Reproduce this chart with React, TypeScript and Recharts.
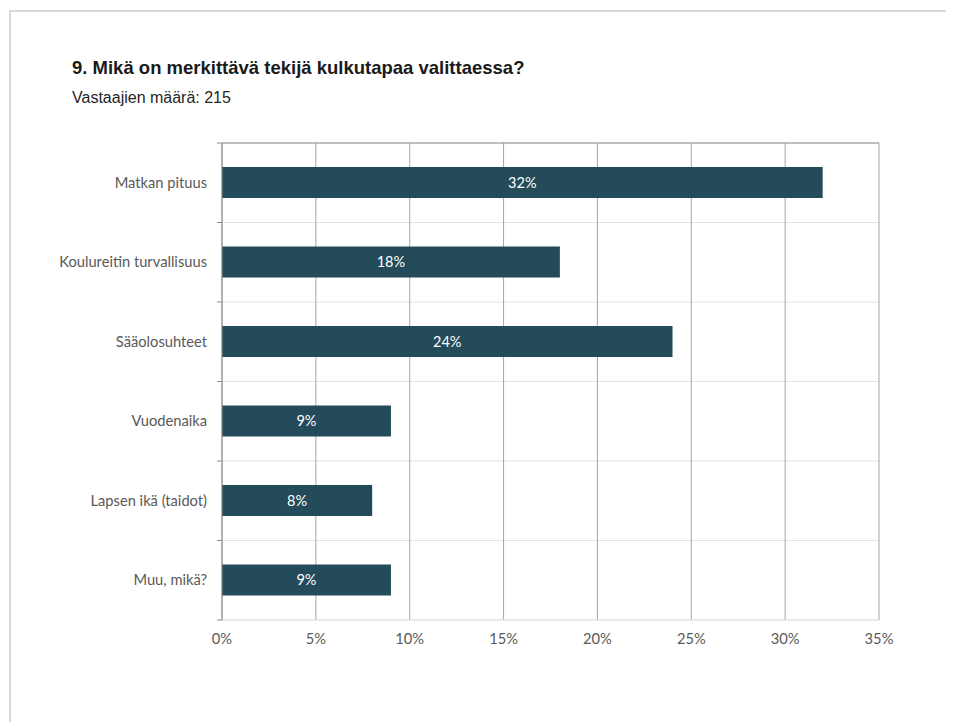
import React from "react";
import { BarChart, Bar, XAxis, YAxis, CartesianGrid, LabelList } from "recharts";

const categories = [
  "Matkan pituus",
  "Koulureitin turvallisuus",
  "Sääolosuhteet",
  "Vuodenaika",
  "Lapsen ikä (taidot)",
  "Muu, mikä?",
];
const values = [32, 18, 24, 9, 8, 9];
const xTicks = [0, 5, 10, 15, 20, 25, 30, 35];
const title = "9. Mikä on merkittävä tekijä kulkutapaa valittaessa?";
const subtitle = "Vastaajien määrä: 215";

const data = categories.map((c, i) => ({ name: c, value: values[i] }));

const FONT = "Lato, 'Open Sans', sans-serif";
const LABEL_GAP = 15;

const CategoryTick = (props: any) => {
  const { x, y, payload, index } = props;
  const half = payload && typeof payload.offset === "number" ? payload.offset : 0;
  const axisX = x + LABEL_GAP;
  const isLast = index === categories.length - 1;
  return (
    <g>
      {half > 0 && <line x1={axisX - 5} x2={axisX} y1={y - half} y2={y - half} stroke="#8c8c8c" />}
      {half > 0 && isLast && <line x1={axisX - 5} x2={axisX} y1={y + half} y2={y + half} stroke="#8c8c8c" />}
      <text
        x={x}
        y={y}
        dy="0.35em"
        textAnchor="end"
        fill="#595959"
        fontSize={14.7}
        fontFamily={FONT}
      >
        {payload.value}
      </text>
    </g>
  );
};

const bandBoundaries = (props: any) => {
  const off = props && props.offset;
  if (!off) return [];
  const n = categories.length;
  const step = off.height / n;
  const pts: number[] = [];
  for (let i = 0; i <= n; i++) pts.push(off.top + i * step);
  return pts;
};

export default function App() {
  return (
    <div style={{ position: "relative", width: 946, height: 714, background: "#fff" }}>
      <div style={{ position: "absolute", left: 1, top: 2, width: 945, height: 2, background: "#d9d9d9" }} />
      <div style={{ position: "absolute", left: 1, top: 2, width: 2, height: 712, background: "#d9d9d9" }} />
      <div
        style={{
          position: "absolute",
          left: 64,
          top: 49,
          fontFamily: "Arial, 'Liberation Sans', sans-serif",
          fontWeight: "bold",
          fontSize: 18.5,
          color: "#1a1a1a",
          whiteSpace: "nowrap",
        }}
      >
        {title}
      </div>
      <div
        style={{
          position: "absolute",
          left: 64,
          top: 81,
          fontFamily: "Arial, 'Liberation Sans', sans-serif",
          fontSize: 16,
          color: "#262626",
          whiteSpace: "nowrap",
        }}
      >
        {subtitle}
      </div>
      <div style={{ position: "absolute", left: 0, top: 0 }}>
        <BarChart
          width={946}
          height={714}
          data={data}
          layout="vertical"
          margin={{ top: 130, right: 75, bottom: 72, left: 0 }}
          barCategoryGap={24}
        >
          <CartesianGrid
            xAxisId="bottom"
            horizontal={true}
            vertical={false}
            stroke="#e3e3e3"
            horizontalCoordinatesGenerator={bandBoundaries}
          />
          <CartesianGrid
            xAxisId="bottom"
            horizontal={false}
            vertical={true}
            stroke="#a6a6a6"
          />
          <XAxis
            type="number"
            xAxisId="bottom"
            orientation="bottom"
            domain={[0, 35]}
            ticks={xTicks}
            tickFormatter={(v) => `${v}%`}
            axisLine={{ stroke: "#e3e3e3" }}
            tickLine={false}
            tickSize={0}
            tickMargin={14}
            height={30}
            tick={{ fill: "#595959", fontSize: 14.7, fontFamily: FONT }}
          />
          <XAxis
            type="number"
            xAxisId="top"
            orientation="top"
            domain={[0, 35]}
            ticks={xTicks}
            axisLine={{ stroke: "#8c8c8c" }}
            tickLine={{ stroke: "#8c8c8c" }}
            tickSize={5}
            tick={false}
            height={5}
          />
          <YAxis
            type="category"
            dataKey="name"
            width={214}
            axisLine={{ stroke: "#8c8c8c" }}
            tickLine={false}
            tickSize={0}
            tickMargin={LABEL_GAP}
            tick={<CategoryTick />}
          />
          <Bar dataKey="value" xAxisId="bottom" fill="#234b5a" barSize={31} isAnimationActive={false}>
            <LabelList
              dataKey="value"
              position="center"
              formatter={(v: number) => `${v}%`}
              style={{ fill: "#ffffff", fontSize: 14.5, fontFamily: FONT }}
            />
          </Bar>
        </BarChart>
      </div>
    </div>
  );
}
